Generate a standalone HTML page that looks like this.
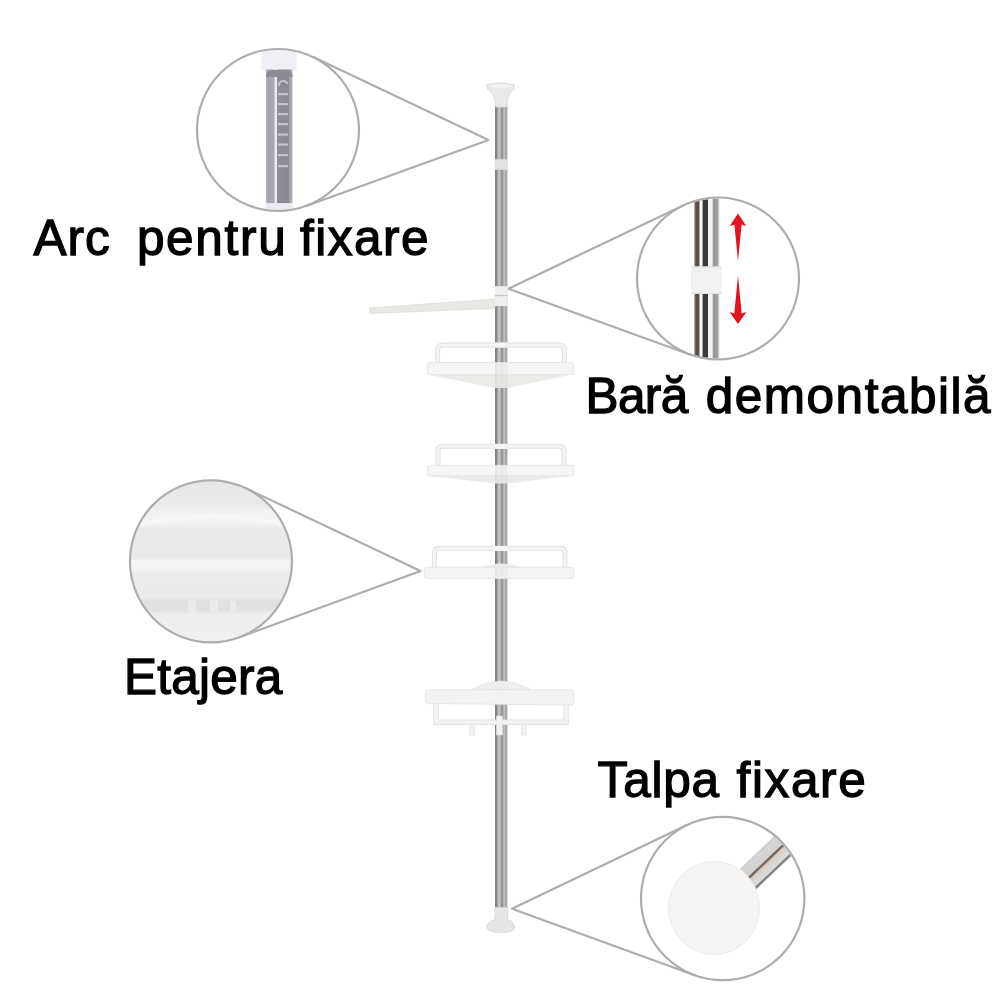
<!DOCTYPE html>
<html><head><meta charset="utf-8">
<style>
html,body{margin:0;padding:0;background:#fff;}
body{width:1000px;height:1000px;overflow:hidden;position:relative;}
svg{position:absolute;left:0;top:0;}
.t{font-family:"Liberation Sans",sans-serif;font-weight:400;font-size:49.5px;fill:#000;stroke:#000;stroke-width:1.3px;}
</style></head><body>
<svg width="1000" height="1000" viewBox="0 0 1000 1000">
<defs>
  <linearGradient id="pole" gradientUnits="userSpaceOnUse" x1="495" x2="507.5" y1="0" y2="0">
    <stop offset="0" stop-color="#7e7e7e"/>
    <stop offset="0.12" stop-color="#868686"/>
    <stop offset="0.25" stop-color="#b8b8b8"/>
    <stop offset="0.35" stop-color="#c6c6c6"/>
    <stop offset="0.45" stop-color="#b0b0b0"/>
    <stop offset="0.5" stop-color="#969696"/>
    <stop offset="0.6" stop-color="#989898"/>
    <stop offset="0.7" stop-color="#bababa"/>
    <stop offset="0.77" stop-color="#c2c2c2"/>
    <stop offset="0.86" stop-color="#a2a2a2"/>
    <stop offset="1" stop-color="#b0b0b0"/>
  </linearGradient>
  <linearGradient id="chrome" gradientUnits="userSpaceOnUse" x1="694" x2="720" y1="0" y2="0">
    <stop offset="0" stop-color="#d0c8c0"/>
    <stop offset="0.07" stop-color="#5a4e48"/>
    <stop offset="0.19" stop-color="#5a4e48"/>
    <stop offset="0.23" stop-color="#f6f6f6"/>
    <stop offset="0.31" stop-color="#f6f6f6"/>
    <stop offset="0.35" stop-color="#3a3a38"/>
    <stop offset="0.52" stop-color="#3a3a38"/>
    <stop offset="0.56" stop-color="#f8f8f8"/>
    <stop offset="0.7" stop-color="#f0f0f0"/>
    <stop offset="0.74" stop-color="#9c9896"/>
    <stop offset="0.9" stop-color="#a09c9a"/>
    <stop offset="0.96" stop-color="#e0e0e0"/>
    <stop offset="1" stop-color="#ffffff"/>
  </linearGradient>
  <linearGradient id="tube" gradientUnits="userSpaceOnUse" x1="266" x2="292.5" y1="0" y2="0">
    <stop offset="0" stop-color="#b4b6ba"/>
    <stop offset="0.08" stop-color="#a2a5aa"/>
    <stop offset="0.31" stop-color="#a8abb0"/>
    <stop offset="0.345" stop-color="#f0f0f6"/>
    <stop offset="0.395" stop-color="#eeeef4"/>
    <stop offset="0.43" stop-color="#908c98"/>
    <stop offset="0.85" stop-color="#8c8894"/>
    <stop offset="0.9" stop-color="#a4a6ac"/>
    <stop offset="1" stop-color="#b0b2b8"/>
  </linearGradient>
  <linearGradient id="c3g" gradientUnits="userSpaceOnUse" x1="0" x2="0" y1="480" y2="643">
    <stop offset="0" stop-color="#e7e7e7"/>
    <stop offset="0.153" stop-color="#eaeaea"/>
    <stop offset="0.209" stop-color="#f3f3f3"/>
    <stop offset="0.27" stop-color="#f1f1f1"/>
    <stop offset="0.307" stop-color="#e9e9e9"/>
    <stop offset="0.478" stop-color="#eaeaea"/>
    <stop offset="0.5" stop-color="#f6f6f6"/>
    <stop offset="0.546" stop-color="#f3f3f3"/>
    <stop offset="0.57" stop-color="#ececec"/>
    <stop offset="0.724" stop-color="#eaeaea"/>
    <stop offset="0.742" stop-color="#e0e0e0"/>
    <stop offset="0.804" stop-color="#e2e2e2"/>
    <stop offset="0.822" stop-color="#eeeeee"/>
    <stop offset="1" stop-color="#f0f0f0"/>
  </linearGradient>
  <linearGradient id="rod" gradientUnits="userSpaceOnUse" x1="0" x2="0" y1="-13" y2="13">
    <stop offset="0" stop-color="#c8c8c8"/>
    <stop offset="0.1" stop-color="#d6d6d6"/>
    <stop offset="0.42" stop-color="#d2d2d2"/>
    <stop offset="0.46" stop-color="#6b5d55"/>
    <stop offset="0.52" stop-color="#8a7a70"/>
    <stop offset="0.56" stop-color="#d8cfc6"/>
    <stop offset="0.88" stop-color="#dcdcdc"/>
    <stop offset="0.92" stop-color="#7a7a7a"/>
    <stop offset="1" stop-color="#9a9a9a"/>
  </linearGradient>
  <clipPath id="c1"><circle cx="278" cy="130" r="80"/></clipPath>
  <clipPath id="c2"><circle cx="718" cy="278.5" r="80"/></clipPath>
  <clipPath id="c3"><circle cx="211" cy="561.4" r="80"/></clipPath>
  <clipPath id="c4"><circle cx="722.7" cy="898.5" r="80.5"/></clipPath>
</defs>

<!-- callout lines -->
<g stroke="#adadad" stroke-width="2.2" fill="none" stroke-linejoin="round">
  <polyline points="312.6,56.7 488.5,140 305.5,206.2"/>
  <polyline points="683.2,205.4 508.5,288.7 690.5,354.7"/>
  <polyline points="245.5,488.1 420.6,571 238.7,637.5"/>
  <polyline points="687.5,824.8 512,908.8 694.7,975.2"/>
</g>

<!-- circle 1 content -->
<g clip-path="url(#c1)">
  <rect x="261.5" y="47" width="35" height="23.5" fill="#f0eff5"/>
  <rect x="266" y="69.5" width="26.5" height="134" fill="url(#tube)"/>
  <rect x="265" y="203.2" width="28" height="10" fill="#ecebf2"/>
  <path d="M266 77 Q266 70 272 70 L286.5 70 Q292.5 70 292.5 77 Z" fill="#8c8c92"/>
  <g fill="#c4c2ca">
    <rect x="278" y="93" width="10" height="2.2"/>
    <rect x="278" y="103" width="10" height="2.2"/>
    <rect x="278" y="113" width="10" height="2.2"/>
    <rect x="278" y="123" width="10" height="2.2"/>
    <rect x="278" y="133.5" width="10" height="2.2"/>
    <rect x="278" y="143.5" width="10" height="2.2"/>
    <rect x="278" y="154" width="10" height="2.2"/>
    <rect x="278" y="165" width="10" height="2.2"/>
  </g>
  <path d="M279 86 Q279 81 283 81 Q287 81 287 84" fill="none" stroke="#c4c2ca" stroke-width="2"/>
</g>
<!-- circle 2 content -->
<g clip-path="url(#c2)">
  <rect x="694" y="190" width="26" height="180" fill="url(#chrome)"/>
  <rect x="691" y="266.5" width="30.5" height="27.5" fill="#f1f1f1"/>
  <rect x="691" y="266.5" width="30.5" height="1.2" fill="#e0e0e0"/>
  <rect x="691" y="292.8" width="30.5" height="1.2" fill="#e0e0e0"/>
  <g fill="#e3121d">
    <path d="M738 213.5 L746.3 226 L741.6 224.5 L738 261 L734.4 224.5 L729.7 226 Z"/>
    <path d="M738 324 L746.4 312 L741.7 313.5 L738 275.5 L734.3 313.5 L729.6 312 Z"/>
  </g>
</g>
<!-- circle 3 content -->
<g clip-path="url(#c3)">
  <rect x="120" y="470" width="190" height="190" fill="url(#c3g)"/>
  <path d="M125 528 Q211 505 300 528" fill="none" stroke="#f6f6f6" stroke-width="5"/>
  <g fill="#f2f2f6" opacity="0.6">
    <rect x="188" y="600" width="8" height="12"/>
    <rect x="210" y="600" width="8" height="12"/>
    <rect x="230" y="601" width="6" height="11"/>
  </g>
</g>
<!-- circle 4 content -->
<g clip-path="url(#c4)">
  <g transform="translate(748.2 879) rotate(-43.5)">
    <rect x="-10" y="-13" width="80" height="26" fill="url(#rod)"/>
  </g>
  <ellipse cx="714" cy="908" rx="46" ry="47" fill="#f5f4f2"/>
  <ellipse cx="714" cy="908" rx="45.5" ry="46.5" fill="none" stroke="#ecebea" stroke-width="1"/>
</g>

<!-- circles -->
<g stroke="#adadad" stroke-width="2.2" fill="none">
  <circle cx="278" cy="130" r="81"/>
  <circle cx="718" cy="278.5" r="81"/>
  <circle cx="211" cy="561.4" r="81"/>
  <circle cx="722.7" cy="898.5" r="81.7"/>
</g>

<!-- pole -->
<rect x="495" y="105" width="12.5" height="803" fill="url(#pole)"/>
<!-- top cap -->
<path d="M487 84.5 Q501 81.5 514.5 84.5 L514 89 Q509 93 507.2 100 L507.2 107 L495.2 107 L495.2 100 Q493 93 487.5 89 Z" fill="#e9e9e9" stroke="#d6d6d6" stroke-width="0.8"/>
<ellipse cx="501" cy="86" rx="11" ry="2" fill="#f4f4f4"/>
<rect x="494.5" y="159.3" width="13.5" height="10.5" fill="#e2e2e2"/>
<!-- towel bar -->
<path d="M369.5 308 L495 299 L495 308.5 L369.5 313.4 Z" fill="#eae8e4" stroke="#dddbd7" stroke-width="0.7"/>
<rect x="494.8" y="286" width="12.9" height="20" fill="#efefef"/>
<rect x="494.8" y="286" width="12.9" height="0.8" fill="#dadada"/>
<rect x="494.8" y="295" width="12.9" height="1.2" fill="#c8c8c8"/>

<!-- shelves -->
<g>
  <!-- shelf 1 -->
  <path d="M437.6 364 L437.6 350 Q437.6 345 443 345 L559 345 Q564.4 345 564.4 350 L564.4 364" fill="none" stroke="#e3e3e3" stroke-width="5"/>
  <path d="M437.6 364 L437.6 350 Q437.6 345 443 345 L559 345 Q564.4 345 564.4 350 L564.4 364" fill="none" stroke="#f3f3f3" stroke-width="3"/>
  <rect x="494.6" y="342.6" width="13.2" height="5" fill="#f4f4f4"/>
  <path d="M427.5 374.5 L574 374 L508 388 L495 388 Z" fill="#eae9e6" fill-opacity="0.9"/>
  <path d="M430 362.5 L572 362.5 Q574 362.5 574 365 L574 372 Q574 374.5 571 374.5 L430 374.6 Q427.3 374.6 427.3 372 L427.3 365 Q427.3 362.5 430 362.5 Z" fill="#f4f4f4" fill-opacity="0.88" stroke="#e2e2e2" stroke-width="0.8"/>
  <!-- shelf 2 -->
  <path d="M438 466 L438 451 Q438 446.3 443 446.3 L559 446.3 Q564 446.3 564 451 L564 466" fill="none" stroke="#e3e3e3" stroke-width="5"/>
  <path d="M438 466 L438 451 Q438 446.3 443 446.3 L559 446.3 Q564 446.3 564 451 L564 466" fill="none" stroke="#f3f3f3" stroke-width="3"/>
  <rect x="494.6" y="444" width="13.2" height="5" fill="#f4f4f4"/>
  <path d="M427.5 475.8 L574 475.5 L508 483.5 L495 483.5 Z" fill="#eae9e6" fill-opacity="0.9"/>
  <path d="M430 465.3 L572 465.3 Q574 465.3 574 468 L574 473.5 Q574 475.8 571 475.8 L430 475.8 Q427.3 475.8 427.3 473.5 L427.3 468 Q427.3 465.3 430 465.3 Z" fill="#f4f4f4" fill-opacity="0.88" stroke="#e2e2e2" stroke-width="0.8"/>
  <!-- shelf 3 -->
  <path d="M434.5 568 L434.5 553 Q434.5 548.3 439.5 548.3 L560 548.3 Q565 548.3 565 553 L565 568" fill="none" stroke="#e3e3e3" stroke-width="5"/>
  <path d="M434.5 568 L434.5 553 Q434.5 548.3 439.5 548.3 L560 548.3 Q565 548.3 565 553 L565 568" fill="none" stroke="#f3f3f3" stroke-width="3"/>
  <rect x="494.6" y="546" width="13.2" height="5" fill="#f4f4f4"/>
  <path d="M477 568 Q494 563.5 501 563.5 Q508 563.5 525 568 Z" fill="#ebebeb"/>
  <path d="M427 567.3 L572 567.3 Q574 567.3 574 570 L574 576 Q574 578.5 571 578.5 L427 578.5 Q424.4 578.5 424.4 576 L424.4 570 Q424.4 567.3 427 567.3 Z" fill="#f2f2f2" fill-opacity="0.9" stroke="#e2e2e2" stroke-width="0.8"/>
  <!-- shelf 4 -->
  <path d="M436 703 L436 722.3 L566 722.3 L566 703" fill="none" stroke="#e3e3e3" stroke-width="5.5"/>
  <path d="M436 703 L436 722.3 L566 722.3 L566 703" fill="none" stroke="#f3f3f3" stroke-width="3.5"/>
  <path d="M471 689.5 Q487 681 501 681 Q515 681 531 689.5 Z" fill="#eeeeee" stroke="#e2e2e2" stroke-width="0.6"/>
  <path d="M428 689.8 L572 689.8 Q574 689.8 574 692.5 L574 702.5 Q574 705 571 705 L428 703.5 Q425.4 703.5 425.4 701 L425.4 692.5 Q425.4 689.8 428 689.8 Z" fill="#f2f2f2" stroke="#e2e2e2" stroke-width="0.8"/>
  <g fill="#f1f1f1" stroke="#dedede" stroke-width="0.6">
    <rect x="496.5" y="716" width="6" height="19"/>
    <rect x="469.8" y="724" width="4.5" height="11"/>
    <rect x="521.6" y="724" width="4.5" height="11"/>
  </g>
</g>

<!-- bottom foot -->
<path d="M495 907.5 L507.5 907.5 L507.5 919 Q512 921 514.8 926 Q515 932.5 501 932.5 Q486.5 932.5 486.5 926 Q489.5 921 495 919 Z" fill="#e6e6e6" stroke="#d4d4d4" stroke-width="0.8"/>

<!-- text -->
<text class="t" x="33.5" y="254.7" textLength="76.25" lengthAdjust="spacing">Arc</text>
<text class="t" x="136.9" y="254.7" textLength="148.76" lengthAdjust="spacing">pentru</text>
<text class="t" x="300" y="254.7" textLength="128.65" lengthAdjust="spacing">fixare</text>
<text class="t" x="585.5" y="412.8" textLength="102.76" lengthAdjust="spacing">Bară</text>
<text class="t" x="705.7" y="412.8" textLength="284.9" lengthAdjust="spacing">demontabilă</text>
<text class="t" x="124.1" y="693.8" textLength="158.24" lengthAdjust="spacing">Etajera</text>
<text class="t" x="597.6" y="796.7" textLength="121.54" lengthAdjust="spacing">Talpa</text>
<text class="t" x="736.5" y="796.7" textLength="129.25" lengthAdjust="spacing">fixare</text>
</svg>
</body></html>
